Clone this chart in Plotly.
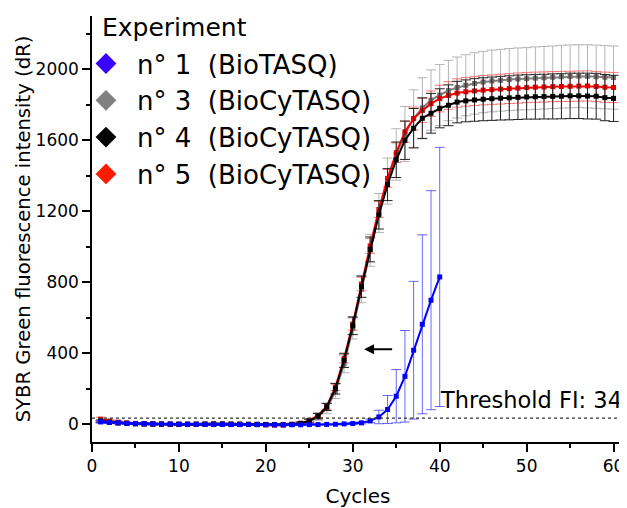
import plotly.graph_objects as go

# cycles
cycles = list(range(1, 61))
cycles_bio = list(range(1, 41))

# n° 1 (BioTASQ) - only 40 cycles
bio_1 = [13, 10, 8, 5, 4, 3, 2, 1, 1, 0, 0, 0, -1, -1, -1, -2, -2, -2, -2, -3,
         -3, -3, -3, -3, -2, -2, -1, 0, 2, 4, 8, 19, 41, 83, 158, 270, 417, 563, 699, 830]
bio_1_err = [6, 5, 4, 4, 4, 3, 3, 3, 3, 3, 3, 3, 3, 3, 3, 3, 3, 3, 3, 3,
             3, 3, 3, 3, 3, 3, 3, 3, 4, 5, 6, 10, 38, 79, 150, 258, 388, 504, 617, 730]

# n° 3 (BioCyTASQ)
cy_3 = [15, 10, 6, 4, 2, 1, 1, 0, 0, 0, 0, 1, 1, 0, 0, 0, -1, -1, -1, -2,
        -2, -3, -1, 5, 18, 42, 90, 185, 340, 540, 760, 980, 1190, 1370, 1520, 1635, 1722, 1782, 1826, 1855,
        1880, 1897, 1910, 1920, 1928, 1934, 1938, 1942, 1945, 1947, 1950, 1952, 1955, 1958, 1960, 1961, 1960, 1958, 1955, 1953]
cy_3_err = [8, 6, 5, 5, 5, 5, 5, 5, 5, 5, 5, 5, 5, 5, 5, 5, 5, 5, 5, 5,
            5, 5, 6, 10, 15, 22, 30, 40, 50, 60, 75, 90, 110, 130, 145, 155, 162, 170, 170, 172,
            170, 172, 172, 173, 173, 174, 174, 175, 175, 175, 176, 176, 176, 177, 177, 177, 178, 178, 178, 178]

# n° 4 (BioCyTASQ)
cy_4 = [18, 12, 8, 5, 3, 2, 1, 1, 0, 0, 0, 0, 1, 2, 2, 1, 1, 0, 0, -1,
        -2, -3, -1, 4, 18, 45, 97, 200, 360, 555, 775, 985, 1180, 1350, 1490, 1600, 1668, 1724, 1752, 1780,
        1797, 1815, 1822, 1827, 1831, 1834, 1837, 1839, 1842, 1844, 1845, 1846, 1847, 1848, 1850, 1850, 1849, 1848, 1840, 1836]
cy_4_err = [6, 5, 4, 4, 4, 4, 4, 4, 4, 4, 4, 4, 4, 4, 4, 4, 4, 4, 4, 4,
            4, 4, 5, 8, 10, 15, 20, 30, 40, 50, 60, 70, 80, 90, 100, 108, 111, 115, 112, 110,
            115, 117, 118, 120, 121, 122, 123, 124, 125, 125, 126, 126, 127, 127, 128, 128, 129, 129, 130, 130]

# n° 5 (BioCyTASQ)
cy_5 = [28, 18, 12, 8, 5, 3, 2, 1, 1, 0, 0, 0, 0, 1, 1, 0, 0, -1, -2, -3,
        -5, -3, 0, 6, 22, 50, 100, 210, 370, 565, 790, 1005, 1210, 1385, 1530, 1648, 1722, 1768, 1806, 1835,
        1852, 1866, 1873, 1878, 1882, 1885, 1888, 1891, 1894, 1897, 1899, 1900, 1902, 1903, 1904, 1905, 1906, 1903, 1899, 1897]
cy_5_err = [12, 8, 6, 5, 5, 5, 5, 5, 5, 5, 5, 5, 5, 5, 5, 5, 5, 5, 5, 5,
            6, 6, 6, 7, 8, 12, 16, 20, 25, 35, 38, 42, 45, 50, 55, 60, 65, 68, 72, 75,
            78, 80, 81, 82, 83, 83, 84, 84, 85, 85, 85, 85, 85, 85, 85, 85, 85, 85, 85, 85]

threshold = 34

names = ["n°\u00a01\u00a0 (BioTASQ)", "n°\u00a03\u00a0 (BioCyTASQ)",
         "n°\u00a04\u00a0 (BioCyTASQ)", "n°\u00a05\u00a0 (BioCyTASQ)"]
legend_colors = ["#3A00FF", "#808080", "#000000", "#FF1A00"]

FONT = "DejaVu Sans"

fig = go.Figure()

# n° 3 gray
fig.add_trace(go.Scatter(
    x=cycles, y=cy_3, mode="lines+markers", showlegend=False,
    line=dict(color="#7F7F7F", width=2),
    marker=dict(symbol="square", size=5, color="#6E6E6E"),
    error_y=dict(type="data", array=cy_3_err, visible=True, color="#B5B5B5", thickness=1, width=5)
))

# n° 5 red
fig.add_trace(go.Scatter(
    x=cycles, y=cy_5, mode="lines+markers", showlegend=False,
    line=dict(color="#FF0000", width=2),
    marker=dict(symbol="square", size=5, color="#E80000"),
    error_y=dict(type="data", array=cy_5_err, visible=True, color="rgba(240,80,80,0.75)", thickness=1, width=5)
))

# n° 4 black
fig.add_trace(go.Scatter(
    x=cycles, y=cy_4, mode="lines+markers", showlegend=False,
    line=dict(color="#000000", width=2),
    marker=dict(symbol="square", size=5, color="#000000"),
    error_y=dict(type="data", array=cy_4_err, visible=True, color="#222222", thickness=1, width=5)
))

# n° 1 blue
fig.add_trace(go.Scatter(
    x=cycles_bio, y=bio_1, mode="lines+markers", showlegend=False,
    line=dict(color="#0000FF", width=2),
    marker=dict(symbol="square", size=5, color="#0000FF"),
    error_y=dict(type="data", array=bio_1_err, visible=True, color="rgba(40,40,255,0.7)", thickness=1, width=5)
))

# legend entries (diamonds)
for name, col in zip(names, legend_colors):
    fig.add_trace(go.Scatter(
        x=[None], y=[None], mode="markers", name=name,
        marker=dict(symbol="diamond", size=16, color=col)
    ))

# threshold line
fig.add_shape(type="line", xref="paper", x0=0, x1=1, yref="y", y0=threshold, y1=threshold,
              line=dict(color="#333333", width=1.2, dash="dot"))

fig.add_annotation(
    text="Threshold FI: " + str(threshold), xref="paper", x=1.0, xanchor="right", xshift=0,
    y=threshold, yanchor="bottom", yshift=3, showarrow=False,
    font=dict(family=FONT, size=22.5, color="black")
)

# legend title
fig.add_annotation(
    text="Experiment", xref="paper", yref="paper", x=0.015, y=0.972,
    xanchor="left", yanchor="middle", showarrow=False,
    font=dict(family=FONT, size=25, color="black")
)

# arrow
fig.add_annotation(
    x=31.3, y=423, ax=34.7, ay=423, axref="x", ayref="y", xref="x", yref="y",
    text="", showarrow=True, arrowhead=2, arrowsize=1, arrowwidth=2, arrowcolor="black"
)

fig.update_layout(
    width=619, height=500,
    margin=dict(l=84, r=3, t=8, b=66),
    plot_bgcolor="white", paper_bgcolor="white",
    font=dict(family=FONT, color="black"),
    legend=dict(
        x=-0.032, y=0.9434, xanchor="left", yanchor="top",
        bgcolor="rgba(0,0,0,0)",
        font=dict(family=FONT, size=26),
        itemwidth=52,
    ),
    xaxis=dict(
        range=[0, 61.2], showgrid=False, zeroline=False,
        showline=True, linecolor="black", linewidth=1.5,
        ticks="outside", tickwidth=1.5, ticklen=8, tickcolor="black",
        tick0=0, dtick=10,
        minor=dict(ticks="outside", ticklen=4, tickwidth=1.5, tickcolor="black", dtick=5, showgrid=False),
        tickfont=dict(family=FONT, size=17),
        title=dict(text="Cycles", font=dict(family=FONT, size=20), standoff=14),
    ),
    yaxis=dict(
        range=[-100, 2300], showgrid=False, zeroline=False,
        showline=True, linecolor="black", linewidth=1.5,
        ticks="outside", tickwidth=1.5, ticklen=8, tickcolor="black",
        tick0=0, dtick=400,
        minor=dict(ticks="outside", ticklen=4, tickwidth=1.5, tickcolor="black", dtick=200, showgrid=False),
        tickfont=dict(family=FONT, size=17),
        title=dict(text="SYBR Green fluorescence intensity (dR)", font=dict(family=FONT, size=19.6), standoff=0),
    ),
)

fig.write_html("out.html")
